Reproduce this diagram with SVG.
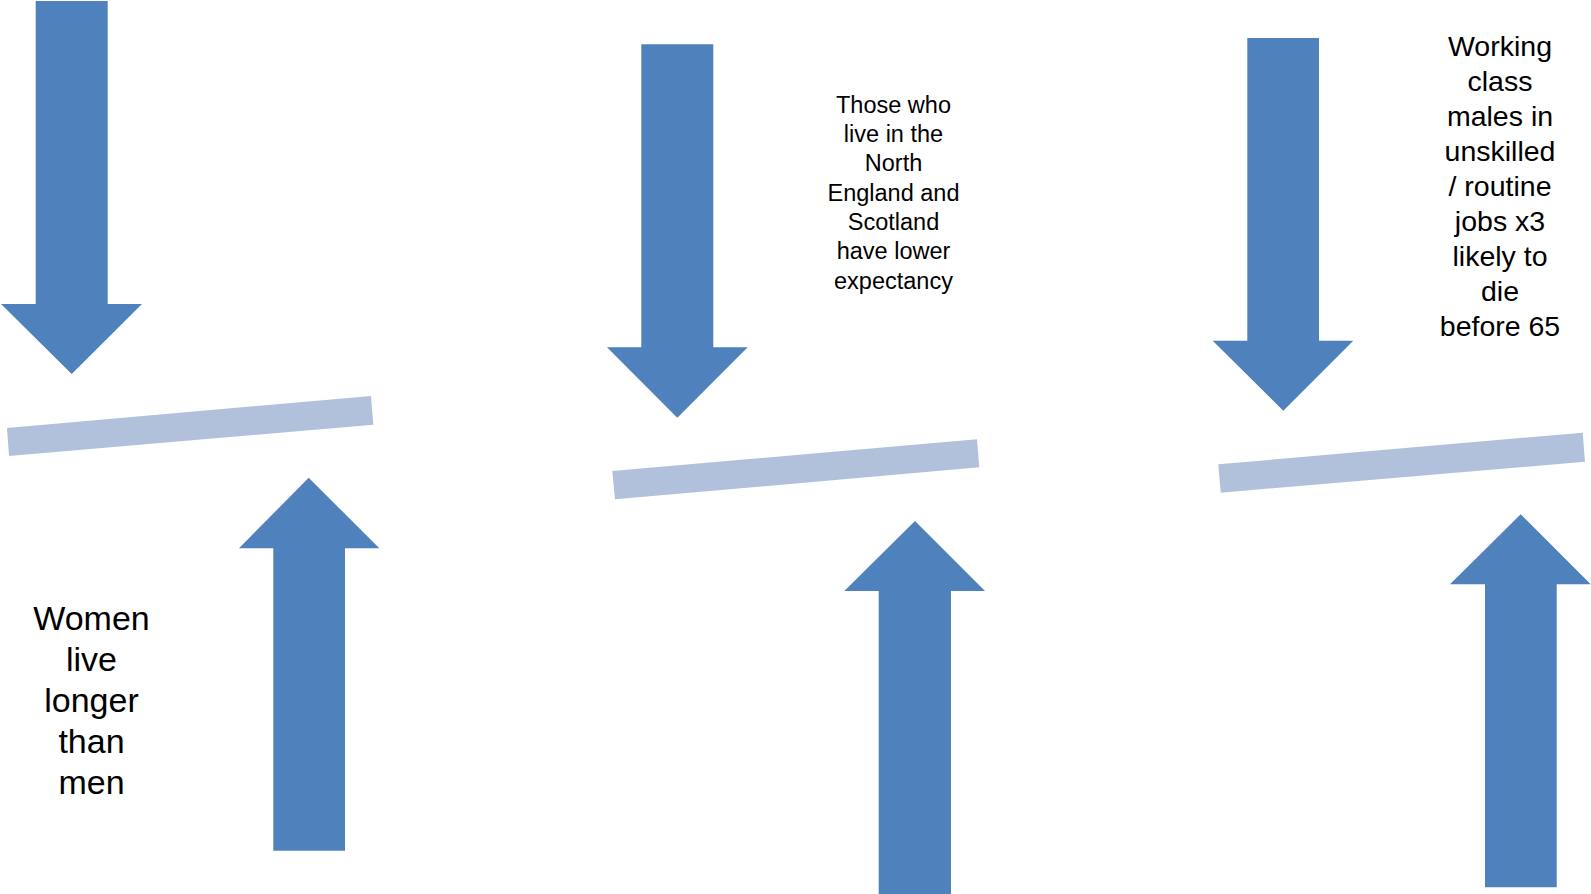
<svg xmlns="http://www.w3.org/2000/svg" width="1591" height="894" viewBox="0 0 1591 894">
<style>
.arrow{fill:#4F81BD}
.bar{fill:#B1C1DC}
.t{font-family:"Liberation Sans",Arial,sans-serif;fill:#000;text-anchor:middle}
</style>
<rect width="1591" height="894" fill="#fff"/>
<g id="arrow-down-1"><polygon class="arrow" points="35.7,1 107.7,1 107.7,304 142,304 71.7,374 1,304 35.7,304"/></g>
<g id="bar-1"><polygon class="bar" points="7,428 371,396 373.3,424.7 9,456"/></g>
<g id="arrow-up-1"><polygon class="arrow" points="308.7,477.7 379.3,548.3 345,548.3 345,850.7 273.3,850.7 273.3,548.3 239,548.3"/></g>
<g id="label-1"><text class="t" font-size="34"><tspan x="91.5" y="629.5">Women</tspan><tspan x="91.5" y="670.5">live</tspan><tspan x="91.5" y="711.5">longer</tspan><tspan x="91.5" y="752.5">than</tspan><tspan x="91.5" y="793.5">men</tspan></text></g>

<g id="arrow-down-2"><polygon class="arrow" points="641.3,44.3 713.3,44.3 713.3,347.3 747.7,347.3 677.3,417.7 607,347.3 641.3,347.3"/></g>
<g id="bar-2"><polygon class="bar" points="612.3,471 977,439.3 979.3,467.3 615,499.3"/></g>
<g id="arrow-up-2"><polygon class="arrow" points="915,521 985,591 951,591 951,894 878.7,894 878.7,591 844.3,591"/></g>
<g id="label-2"><text class="t" font-size="23.5"><tspan x="893.5" y="112.7">Those who</tspan><tspan x="893.5" y="142">live in the</tspan><tspan x="893.5" y="171.3">North</tspan><tspan x="893.5" y="200.6">England and</tspan><tspan x="893.5" y="229.9">Scotland</tspan><tspan x="893.5" y="259.2">have lower</tspan><tspan x="893.5" y="288.5">expectancy</tspan></text></g>

<g id="arrow-down-3"><polygon class="arrow" points="1247.3,38 1319,38 1319,340.7 1353.3,340.7 1283.3,410.7 1212.7,340.7 1247.3,340.7"/></g>
<g id="bar-3"><polygon class="bar" points="1218.3,464.3 1582.7,432.7 1585,461.7 1220.7,492.7"/></g>
<g id="arrow-up-3"><polygon class="arrow" points="1520.7,514.3 1590.7,584.3 1556.7,584.3 1556.7,887.3 1485,887.3 1485,584.3 1450,584.3"/></g>
<g id="label-3"><text class="t" font-size="28.5"><tspan x="1500" y="55.5">Working</tspan><tspan x="1500" y="90.5">class</tspan><tspan x="1500" y="125.5">males in</tspan><tspan x="1500" y="160.5">unskilled</tspan><tspan x="1500" y="195.5">/ routine</tspan><tspan x="1500" y="230.5">jobs x3</tspan><tspan x="1500" y="265.5">likely to</tspan><tspan x="1500" y="300.5">die</tspan><tspan x="1500" y="335.5">before 65</tspan></text></g>
<g id="connectors"/>
</svg>
